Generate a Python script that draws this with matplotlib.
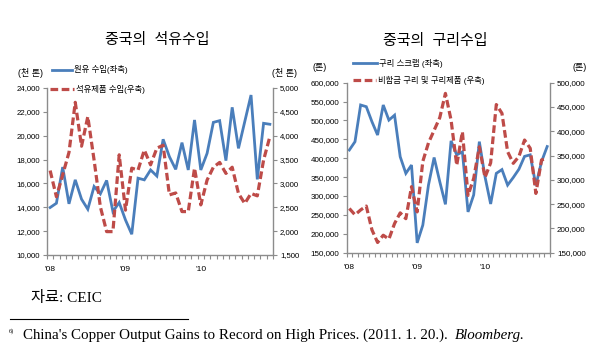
"""
plot.py - 중국의 석유수입 / 구리수입 (two dual-axis line charts)
"""
import matplotlib; matplotlib.use('Agg')
import matplotlib.pyplot as plt
from matplotlib.lines import Line2D
from matplotlib.ticker import FuncFormatter

plt.rcParams['font.family'] = ['Liberation Sans', 'Noto Sans CJK KR']

# monthly, Jan 2008 .. Dec 2010
year_labels = ["'08", "'09", "'10"]
year_pos = [0, 12, 24]

# oil (천 톤)
crude_oil = [13980, 14340, 17370, 14290, 16300, 14680, 13840, 15740, 15130, 16250, 13640, 14400,
             12940, 11740, 16440, 16300, 17130, 16620, 19700, 18240, 17180, 19420, 17130, 21320,
             17130, 18520, 21120, 21260, 17910, 22380, 18940, 21180, 23410, 16340, 21040, 20960]
oil_products = [3270, 2720, 3180, 3650, 4700, 3780, 4400, 3490, 2510, 1990, 1990, 3600,
                2440, 3320, 3280, 3700, 3390, 3740, 3800, 2760, 2800, 2410, 2410, 3320,
                2550, 3070, 3340, 3440, 3210, 3340, 2790, 2580, 2790, 2740, 3490, 3980]

# copper (톤)
copper_scrap = [421800, 443800, 541000, 536500, 496800, 461500, 541000, 501000, 514000, 404000, 360000, 382000,
                176000, 223000, 329000, 402000, 338000, 278000, 446000, 409000, 417000, 258000, 303000, 444000,
                351000, 279000, 360000, 370000, 329000, 349000, 371000, 405000, 409000, 328000, 391000, 431000]
copper_products = [241000, 228000, 238000, 246000, 197000, 171000, 186000, 178000, 210000, 232000, 220000, 286000,
                   234000, 338000, 376000, 402000, 428000, 478000, 423000, 330000, 399000, 268000, 303000, 368000,
                   305000, 335000, 455000, 437000, 358000, 334000, 348000, 382000, 365000, 272000, 341000, 344000]

BLUE, RED, GREY = '#4A7EBB', '#BE4B48', '#8C8C8C'
W, H = 600, 350
fig = plt.figure(figsize=(W/100, H/100), dpi=100)

def fx(x): return x / W
def fy(y): return 1 - y / H

def make_panel(rect, left, right, lticks, rticks, lsize, rsize):
    ax = fig.add_axes(rect)
    n = len(left)
    ax.plot(range(n), left, '-', color=BLUE, lw=2.0, solid_joinstyle='miter')
    ax.set_xlim(-0.5, n - 0.5)
    ax.set_ylim(lticks[0], lticks[-1]); ax.set_yticks(lticks)
    ax.yaxis.set_major_formatter(FuncFormatter(lambda v, p: f'{int(v):,}'))
    ax.set_xticks(year_pos); ax.set_xticklabels(year_labels, fontsize=6)
    ax.set_xticks([k - 0.5 for k in range(n + 1)], minor=True)
    ax.tick_params(axis='x', which='major', length=0, pad=8)
    ax.tick_params(axis='x', which='minor', length=3, color=GREY, width=0.8)
    ax.tick_params(axis='y', length=3, color=GREY, width=0.8, labelsize=lsize, pad=2)
    for s in ['top', 'right']: ax.spines[s].set_visible(False)
    for s in ['left', 'bottom']: ax.spines[s].set_color(GREY); ax.spines[s].set_linewidth(1.0)

    ax2 = ax.twinx()
    ax2.plot(range(n), right, color=RED, lw=2.3, dashes=(2.4, 1.1))
    ax2.set_ylim(rticks[0], rticks[-1]); ax2.set_yticks(rticks)
    ax2.yaxis.set_major_formatter(FuncFormatter(lambda v, p: f'{int(v):,}'))
    ax2.tick_params(axis='y', length=3, color=GREY, width=0.8, labelsize=rsize, pad=2)
    for s in ['top', 'left', 'bottom']: ax2.spines[s].set_visible(False)
    ax2.spines['right'].set_color(GREY); ax2.spines['right'].set_linewidth(1.0)
    return ax, ax2

def legend_item(x0, x1, y, label, color, dashed):
    kw = dict(dashes=(2.4, 1.1), lw=2.3) if dashed else dict(lw=2.0)
    fig.add_artist(Line2D([fx(x0), fx(x1)], [fy(y), fy(y)], color=color, **kw))
    fig.text(fx(x1 + 2), fy(y), label, fontsize=6, va='center', ha='left')

# left: oil
make_panel([fx(47), fy(255), fx(273) - fx(47), fy(88) - fy(255)], crude_oil, oil_products,
           list(range(10000, 24001, 2000)), list(range(1500, 5001, 500)), 5.6, 5.6)
fig.text(fx(157), fy(40), '중국의  석유수입', fontsize=10.8, ha='center', va='center')
fig.text(fx(30), fy(73), '(천 톤)', fontsize=6.5, ha='center', va='center')
fig.text(fx(284), fy(73), '(천 톤)', fontsize=6.5, ha='center', va='center')
legend_item(52, 72, 70, '원유 수입(좌축)', BLUE, False)
legend_item(50, 74, 89, '석유제품 수입(우축)', RED, True)

# right: copper
make_panel([fx(346.5), fy(252.7), fx(550) - fx(346.5), fy(82.7) - fy(252.7)], copper_scrap, copper_products,
           list(range(150000, 600001, 50000)), list(range(150000, 500001, 50000)), 5.8, 5.8)
fig.text(fx(435), fy(41), '중국의  구리수입', fontsize=10.8, ha='center', va='center')
fig.text(fx(320), fy(68), '(톤)', fontsize=6.5, ha='center', va='center')
fig.text(fx(580), fy(68), '(톤)', fontsize=6.5, ha='center', va='center')
legend_item(353, 377, 63, '구리 스크랩 (좌축)', BLUE, False)
legend_item(353, 376, 80, '비합금 구리 및 구리제품 (우축)', RED, True)

# source and footnote
serif = ['Liberation Serif', 'Noto Sans CJK KR']
fig.text(fx(31), fy(298), '자료: CEIC', fontsize=11, family=serif, ha='left', va='center')
fig.add_artist(Line2D([fx(10), fx(188)], [fy(319), fy(319)], color='black', lw=0.8))
fig.text(fx(9), fy(331), '6)', fontsize=4.5, family=serif, ha='left', va='center')
main = fig.text(fx(23), fy(335), "China's Copper Output Gains to Record on High Prices. (2011. 1. 20.). ",
                fontsize=10.8, family=serif, ha='left', va='center')
fig.canvas.draw()
x_end = main.get_window_extent().x1 / W
fig.text(x_end + fx(3), fy(335), 'Bloomberg.', fontsize=10.8, family=serif, style='italic',
         ha='left', va='center')

fig.savefig('out.png', dpi=100)
print('saved out.png')
